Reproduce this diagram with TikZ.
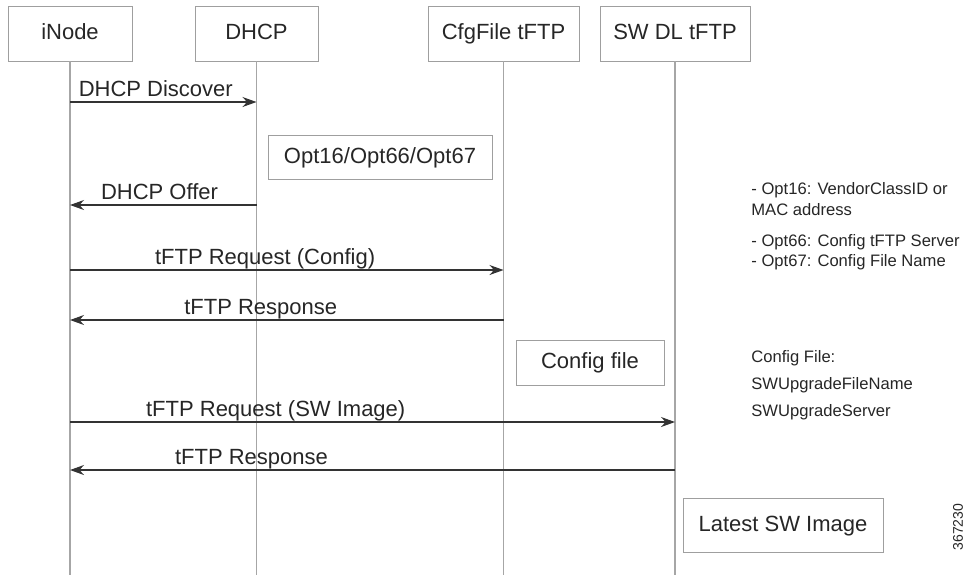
\documentclass[tikz,border=0pt]{standalone}
\usepackage{fontspec}
\setmainfont{Liberation Sans}
\usetikzlibrary{arrows.meta}
\begin{document}
\begin{tikzpicture}[x=0.5pt, y=-0.5pt, font=\fontsize{11}{13}\selectfont, text=black!85,
    party/.style={draw=gray!75, minimum height=27.5pt, text height=8pt, text depth=2pt},
    note/.style={draw=gray!75, text height=8pt, text depth=2pt},
    life/.style={draw=gray!70, line width=0.6pt},
    msg/.style={draw=black!80, line width=0.6pt, -{Stealth[length=7pt,width=5pt]}},
    lbl/.style={anchor=base, yshift=3pt},
    side/.style={anchor=base west, inner sep=0pt, font=\fontsize{8.3}{10}\selectfont}]
    \useasboundingbox (0,0) rectangle (967,575);
    % the four parties
    \node[party, minimum width=62pt] (inode) at (70,33.5) {iNode};
    \node[party, minimum width=61.5pt] (dhcp) at (256.5,33.5) {DHCP};
    \node[party, minimum width=75.5pt] (cfg) at (503.5,33.5) {CfgFile tFTP};
    \node[party, minimum width=75pt] (swdl) at (675,33.5) {SW DL tFTP};
    \coordinate (bottom) at (0,575);
    \foreach \p in {inode,dhcp,cfg,swdl}
      \draw[life] (\p.south) -- (\p.south |- bottom);
    % messages
    \draw[msg] (inode |- 0,102) -- node[lbl, pos=0.46] (discover) {DHCP Discover} (dhcp |- 0,102);
    \draw[msg] (dhcp |- 0,205) -- node[lbl, pos=0.52] (offer) {DHCP Offer} (inode |- 0,205);
    \draw[msg] (inode |- 0,270) -- node[lbl, pos=0.45] (reqcfg) {tFTP Request (Config)} (cfg |- 0,270);
    \draw[msg] (cfg |- 0,320) -- node[lbl, pos=0.56] (respcfg) {tFTP Response} (inode |- 0,320);
    \draw[msg] (inode |- 0,422) -- node[lbl, pos=0.34] (reqsw) {tFTP Request (SW Image)} (swdl |- 0,422);
    \draw[msg] (swdl |- 0,470) -- node[lbl, pos=0.70] (respsw) {tFTP Response} (inode |- 0,470);
    % notes
    \node[note, minimum width=112pt, minimum height=22pt] (opts) at (380,157) {Opt16/Opt66/Opt67};
    \node[note, minimum width=74pt, minimum height=22.5pt] (cfgfile) at (590,362.5) {Config file};
    \node[note, minimum width=100pt, minimum height=27pt] (latest) at (783,525) {Latest SW Image};
    % side remarks
    \node[side] (opt16) at (751,194) {- Opt16: VendorClassID or};
    \node[side] (mac) at (751,215) {MAC address};
    \node[side] (opt66) at (751,246) {- Opt66: Config tFTP Server};
    \node[side] (opt67) at (751,266) {- Opt67: Config File Name};
    \node[side] (cfghead) at (751,362) {Config File:};
    \node[side] (fname) at (751,389) {SWUpgradeFileName};
    \node[side] (server) at (751,416) {SWUpgradeServer};
    \node[rotate=90, inner sep=0pt, font=\fontsize{7}{9}\selectfont] (figid) at (958,527) {367230};
\end{tikzpicture}
\end{document}
